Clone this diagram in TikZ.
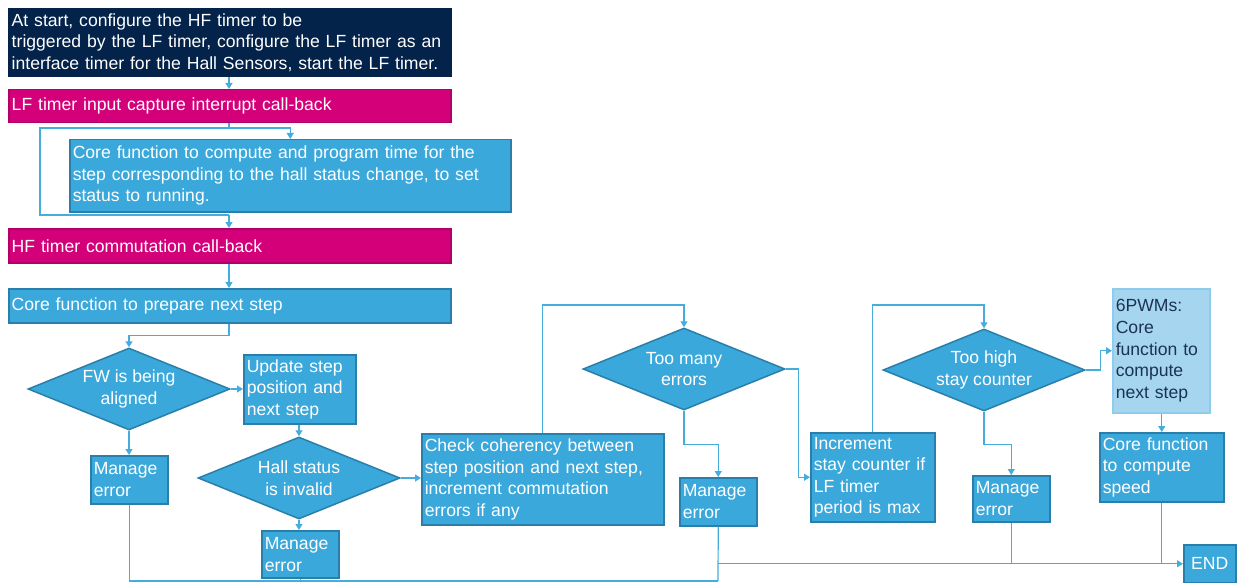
\documentclass[tikz,border=0pt]{standalone}
\usepackage{fontspec}
\setmainfont{Liberation Sans}
\usetikzlibrary{arrows.meta,shapes.geometric}
\definecolor{navy}{HTML}{03234B}
\definecolor{magenta}{HTML}{D4007A}
\definecolor{magentaedge}{HTML}{B0006A}
\definecolor{sky}{HTML}{3AA8DB}
\definecolor{skyedge}{HTML}{2A7FAA}
\definecolor{pale}{HTML}{A6D6EF}
\definecolor{paleedge}{HTML}{8FCBEA}
\definecolor{paleink}{HTML}{1B3352}
\definecolor{wire}{HTML}{45ADDE}

\begin{document}
\begin{tikzpicture}[
  x=1pt,y=-1pt,
  font=\fontsize{17.6}{21.6}\selectfont,
  block/.style={anchor=north west,align=left,text=white,line width=1.5pt,inner xsep=3pt,inner ysep=1pt},
  header/.style={block,fill=navy,draw=navy},
  callback/.style={block,fill=magenta,draw=magentaedge},
  task/.style={block,fill=sky,draw=skyedge},
  hint/.style={block,fill=pale,draw=paleedge,text=paleink},
  decision/.style={diamond,fill=sky,draw=skyedge,line width=1.5pt,text=white,align=center,
    inner sep=0pt,aspect=2.46,minimum width=202pt,minimum height=82pt},
  link/.style={wire,line width=1.2pt},
  arrow/.style={link,-{Triangle[length=6pt,width=7pt]}}
]
  \path[fill=white,use as bounding box] (0,0) rectangle (1243,583);

  % left column
  \node[header,minimum width=442pt,text width=436pt,minimum height=68pt] (start) at (8,8)
    {At start, configure the HF timer to be\\triggered by the LF timer, configure the LF timer as an\\interface timer for the Hall Sensors, start the LF timer.};
  \node[callback,minimum width=442pt,text width=436pt,minimum height=33pt] (lfcb) at (8,89)
    {LF timer input capture interrupt call-back};
  \node[task,minimum width=441pt,text width=435pt,minimum height=72pt] (corecalc) at (69,139)
    {Core function to compute and program time for the\\step corresponding to the hall status change, to set\\status to running.};
  \node[callback,minimum width=442pt,text width=436pt,minimum height=34pt] (hfcb) at (8,228)
    {HF timer commutation call-back};
  \node[task,minimum width=442pt,text width=436pt,minimum height=34pt] (prep) at (8,288)
    {Core function to prepare next step};

  % alignment and hall checks
  \node[decision] (fwalign) at (129,389) {FW is being\\aligned};
  \node[task,minimum width=112pt,text width=106pt,minimum height=69pt] (update) at (243,354)
    {Update step\\position and\\next step};
  \node[task,minimum width=77pt,text width=71pt,minimum height=48pt] (err1) at (90,455) {Manage\\error};
  \node[decision] (hallinv) at (299,478) {Hall status\\is invalid};
  \node[task,minimum width=77pt,text width=71pt,minimum height=47pt] (err2) at (261,530) {Manage\\error};
  \node[task,minimum width=242pt,text width=236pt,minimum height=91pt] (check) at (421,433)
    {Check coherency between\\step position and next step,\\increment commutation\\errors if any};

  % error and stay counters
  \node[decision] (toomany) at (684,369) {Too many\\errors};
  \node[task,minimum width=77pt,text width=71pt,minimum height=48pt] (err3) at (679,477) {Manage\\error};
  \node[task,minimum width=124pt,text width=118pt,minimum height=89pt] (incr) at (810,432)
    {Increment\\stay counter if\\LF timer\\period is max};
  \node[decision] (toohigh) at (984,370) {Too high\\stay counter};
  \node[task,minimum width=77pt,text width=71pt,minimum height=46pt] (err4) at (972,475) {Manage\\error};
  \node[hint,minimum width=97pt,text width=91pt,minimum height=124pt] (pwm) at (1112,288)
    {6PWMs:\\Core\\function to\\compute\\next step};
  \node[task,minimum width=124pt,text width=118pt,minimum height=69pt] (speed) at (1099,432)
    {Core function\\to compute\\speed};
  \node[task,minimum width=52pt,minimum height=38pt,align=center,text width=46pt] (finish) at (1183,544) {END};

  \coordinate (split) at (229,128);
  \coordinate (loopleft) at (40,128);
  \coordinate (loopjoin) at (229,215);
  \coordinate (sink) at (718,581);

  \draw[arrow] (start.south -| split) -- (lfcb.north -| split);
  \draw[link] (lfcb.south -| split) -- (split);
  \draw[arrow] (split) -| (corecalc.north);
  \draw[link] (split) -- (loopleft) |- (loopjoin);
  \draw[arrow] (loopjoin) -- (hfcb.north -| loopjoin);
  \draw[arrow] (hfcb.south -| split) -- (prep.north -| split);
  \draw[arrow] (prep.south -| split) -- ++(0,12) -| (fwalign.north);
  \draw[arrow] (fwalign.east) -- (update.west |- fwalign.east);
  \draw[arrow] (fwalign.south) -- (err1.north -| fwalign.south);
  \draw[arrow] (update.south -| hallinv.north) -- (hallinv.north);
  \draw[arrow] (hallinv.south) -- (err2.north -| hallinv.south);
  \draw[arrow] (hallinv.east) -- (check.west |- hallinv.east);
  \draw[arrow] (check.north) -- ++(0,-128) -| (toomany.north);
  \draw[arrow] (toomany.south) -- ++(0,34) -| (err3.north);
  \draw[arrow] (toomany.east) -- ++(13,0) |- (incr.west);
  \draw[arrow] (incr.north) -- ++(0,-127) -| (toohigh.north);
  \draw[arrow] (toohigh.south) -- ++(0,33) -| (err4.north);
  \draw[arrow] (toohigh.east) -- ++(15,0) |- (pwm.west);
  \draw[arrow] (pwm.south -| speed.north) -- (speed.north);

  % paths to the end
  \draw[link] (err1.south) |- (sink);
  \draw[link] (err2.south) -- (err2.south |- sink);
  \draw[link] (err3.south) -- (sink);
  \draw[arrow] (err3.south |- finish.west) -- (finish.west);
  \draw[link] (err4.south) -- (err4.south |- finish.west);
  \draw[link] (speed.south) -- (speed.south |- finish.west);
\end{tikzpicture}
\end{document}
